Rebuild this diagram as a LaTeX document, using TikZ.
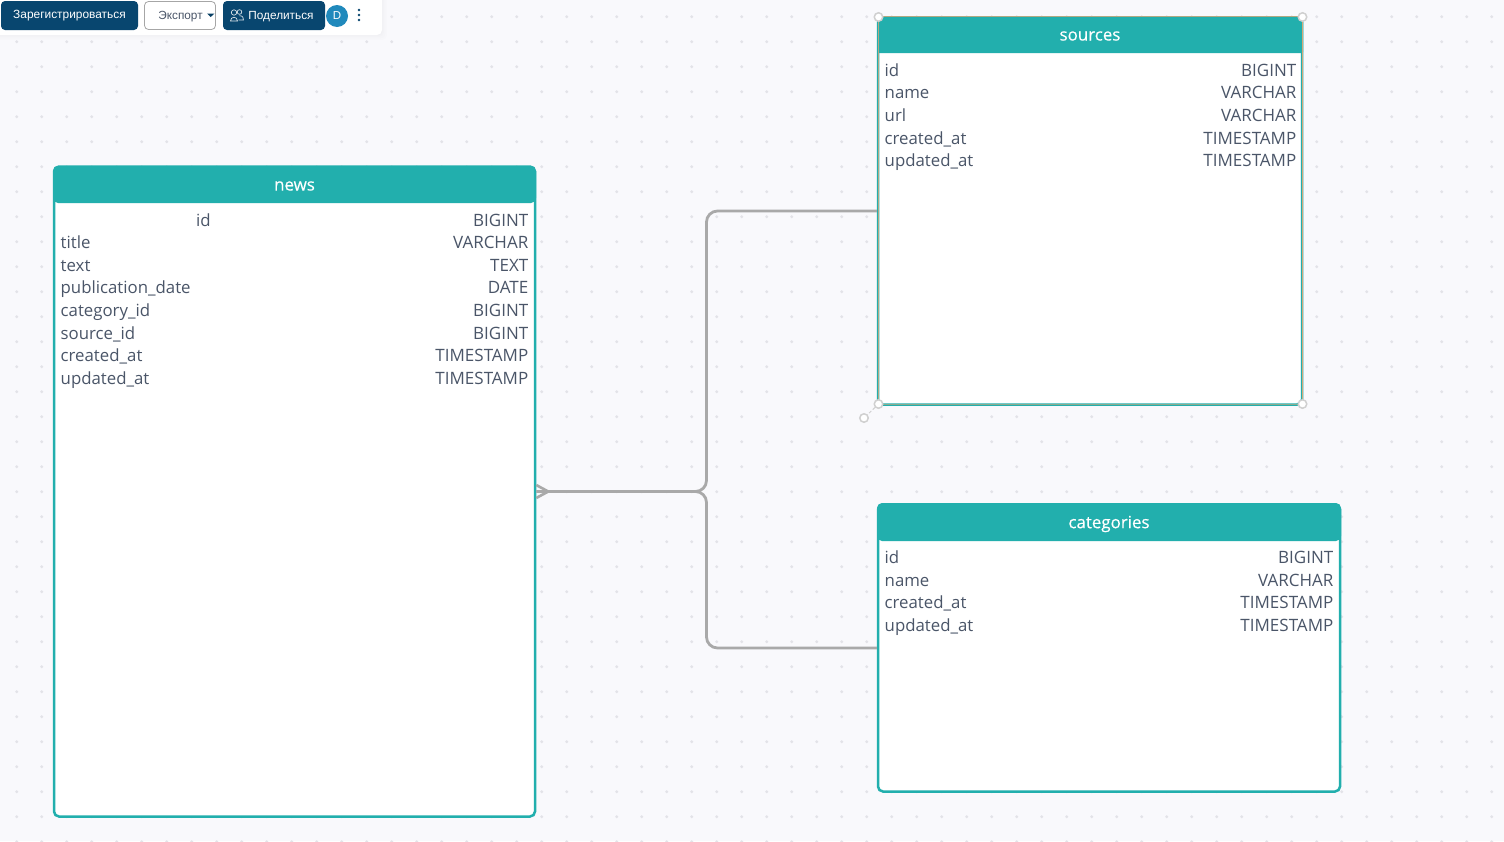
\documentclass[tikz,border=0pt]{standalone}
\usepackage{fontspec}
\setmainfont{Open Sans}
\newfontfamily\uifont{Liberation Sans}
\usetikzlibrary{calc}
\definecolor{bgc}{HTML}{F9F9FC}
\definecolor{dotc}{HTML}{E3E3E8}
\definecolor{tealc}{HTML}{22AFAD}
\definecolor{edgec}{HTML}{A9A9A9}
\definecolor{txtc}{HTML}{4A5568}
\definecolor{tanc}{HTML}{D4A878}
\definecolor{navyc}{HTML}{08466F}
\definecolor{bluec}{HTML}{2089BC}
\definecolor{handlec}{HTML}{D0D0D0}
\tikzset{
  x=1pt,y=-1pt,
  tablebox/.style={draw=tealc,line width=2.5pt,fill=white,rounded corners=5pt,inner sep=0pt},
  headtext/.style={text=white,font=\fontsize{16.9}{18}\selectfont\addfontfeature{FakeBold=0.3},inner sep=0pt},
  fieldname/.style={text=txtc,font=\fontsize{16.8}{20}\selectfont,anchor=base west,inner sep=0pt},
  fieldtype/.style={text=txtc,font=\fontsize{17}{20}\selectfont,anchor=base east,inner sep=0pt},
  link/.style={draw=edgec,line width=2.8pt,rounded corners=11pt},
  handle/.style={circle,draw=handlec,line width=1.5pt,fill=white,minimum size=8.5pt,inner sep=0pt},
  navybtn/.style={fill=navyc,rounded corners=4pt,inner sep=0pt,text=white,font=\uifont\fontsize{11.9}{13}\selectfont},
}
\begin{document}
\begin{tikzpicture}
\useasboundingbox (0,0) rectangle (1504,841);
\fill[bgc] (0,0) rectangle (1504,841);
\clip (0,0) rectangle (1504,841);
\foreach \i in {0,...,59}{\foreach \j in {0,...,33}{
  \fill[dotc] ({16.7+25*\i},{16.7+25*\j}) circle (1.6pt);}}
% toolbar panel
\foreach \g in {5,3.5,2,1}{\fill[black,opacity=.006,rounded corners=5pt] (-10,-10) rectangle (382+\g,35+\g);}
\fill[white,rounded corners=5pt] (-10,-10) rectangle (382,35);
\node[navybtn,minimum width=137pt,minimum height=29pt] (reg) at (69.5,15.5) {\raisebox{-1pt}{Зарегистрироваться}};
\node[draw=handlec!80!black,line width=.8pt,fill=white,rounded corners=4pt,minimum width=71pt,minimum height=28pt,inner sep=0pt] (exp) at (180,15.5) {};
\node[text=txtc,font=\uifont\fontsize{11.8}{13}\selectfont,inner sep=0pt] (explabel) at (180.5,16.3) {Экспорт};
\fill[navyc!90!black] (207,13.5) -- (214.5,13.5) -- (210.7,17) -- cycle;
\node[navybtn,minimum width=102pt,minimum height=29pt] (share) at (274,15.5) {};
\node[text=white,font=\uifont\fontsize{11.8}{13}\selectfont,inner sep=0pt] (sharelabel) at (281,16.3) {Поделиться};
\begin{scope}[draw=white!85!navyc,line width=.7pt]
\draw (234,12.5) circle (2.7pt);
\draw (239.5,12) circle (2.3pt);
\draw (230.5,21) .. controls (230.5,16) and (237.5,16) .. (237.5,21) -- cycle;
\draw (239.5,15.7) .. controls (243,15.7) and (243.5,18) .. (243.5,20) -- (238.5,20);
\end{scope}
\node[circle,fill=bluec,minimum size=22pt,inner sep=0pt,text=white,font=\uifont\fontsize{11.5}{13}\selectfont] (avatar) at (337,16) {D};
\foreach \yy in {10,15,20}{\fill[navyc] (359,\yy) circle (1.3pt);}
% tables
\node[tablebox,minimum width=481pt,minimum height=650pt] (news) at (294.5,491.5) {};
\node[tablebox,minimum width=424pt,minimum height=387pt] (sources) at (1090,211) {};
\node[tablebox,minimum width=462pt,minimum height=287pt] (categories) at (1109,648) {};
% headers
\fill[tealc,rounded corners=5pt] (53,203) -- (53,166) -- (536,166) -- (536,203) -- cycle;
\fill[tealc,rounded corners=1pt] (877,53) -- (877,16) -- (1303,16) -- (1303,53) -- cycle;
\fill[tealc,rounded corners=5pt] (877,541) -- (877,503) -- (1341,503) -- (1341,541) -- cycle;
\node[headtext] (newshead) at (294.5,186) {news};
\node[headtext] (sourceshead) at (1090,36) {sources};
\node[headtext] (categorieshead) at (1109,524) {categories};
% news rows
\foreach \n/\t [count=\c from 0] in {id/BIGINT,title/VARCHAR,text/TEXT,publication\_date/DATE,category\_id/BIGINT,source\_id/BIGINT,created\_at/TIMESTAMP,updated\_at/TIMESTAMP}{
  \pgfmathsetmacro\yy{226+22.6*\c}
  \pgfmathsetmacro\xx{\c==0?196:60.5}
  \node[fieldname] (news-name-\c) at (\xx,\yy) {\n};
  \node[fieldtype] (news-type-\c) at (528.5,\yy) {\t};
}
% sources rows
\foreach \n/\t [count=\c from 0] in {id/BIGINT,name/VARCHAR,url/VARCHAR,created\_at/TIMESTAMP,updated\_at/TIMESTAMP}{
  \pgfmathsetmacro\yy{76+22.7*\c}
  \node[fieldname] (sources-name-\c) at (884.5,\yy) {\n};
  \node[fieldtype] (sources-type-\c) at (1296.5,\yy) {\t};
}
% categories rows
\foreach \n/\t [count=\c from 0] in {id/BIGINT,name/VARCHAR,created\_at/TIMESTAMP,updated\_at/TIMESTAMP}{
  \pgfmathsetmacro\yy{563.5+22.6*\c}
  \node[fieldname] (categories-name-\c) at (884.5,\yy) {\n};
  \node[fieldtype] (categories-type-\c) at (1333.5,\yy) {\t};
}
% selection outline
\draw[tanc,line width=1pt,opacity=.8] (878,404.5) -- (878,16.5) -- (1302.5,16.5);
\draw[tanc,line width=1pt,opacity=.6] (878,404.5) -- (1302.5,404.5);
\draw[tanc,line width=1.8pt] (1302.5,17) -- (1302.5,404.5);
% connectors
\coordinate (midx) at ($(news.east)!.5!(sources.west)$);
\draw[link] (news.east) -| (midx |- sources.west) -- (sources.west);
\draw[link] (news.east) -| (midx |- categories.west) -- (categories.west);
\coordinate (crow) at ($(news.east)+(12,0)$);
\draw[edgec,line width=2.6pt] ($(news.east)+(0,-6.5)$) -- (crow) -- ($(news.east)+(0,6.5)$);
% handles
\node[handle] (h1) at (878.5,17) {};
\node[handle] (h2) at (1302.5,17) {};
\node[handle] (h3) at (1302.5,404) {};
\node[handle] (h4) at (878.5,404) {};
\node[handle] (h5) at (864,418) {};
\draw[handlec,line width=1pt,densely dashed] (h4) -- (h5);
\end{tikzpicture}
\end{document}
